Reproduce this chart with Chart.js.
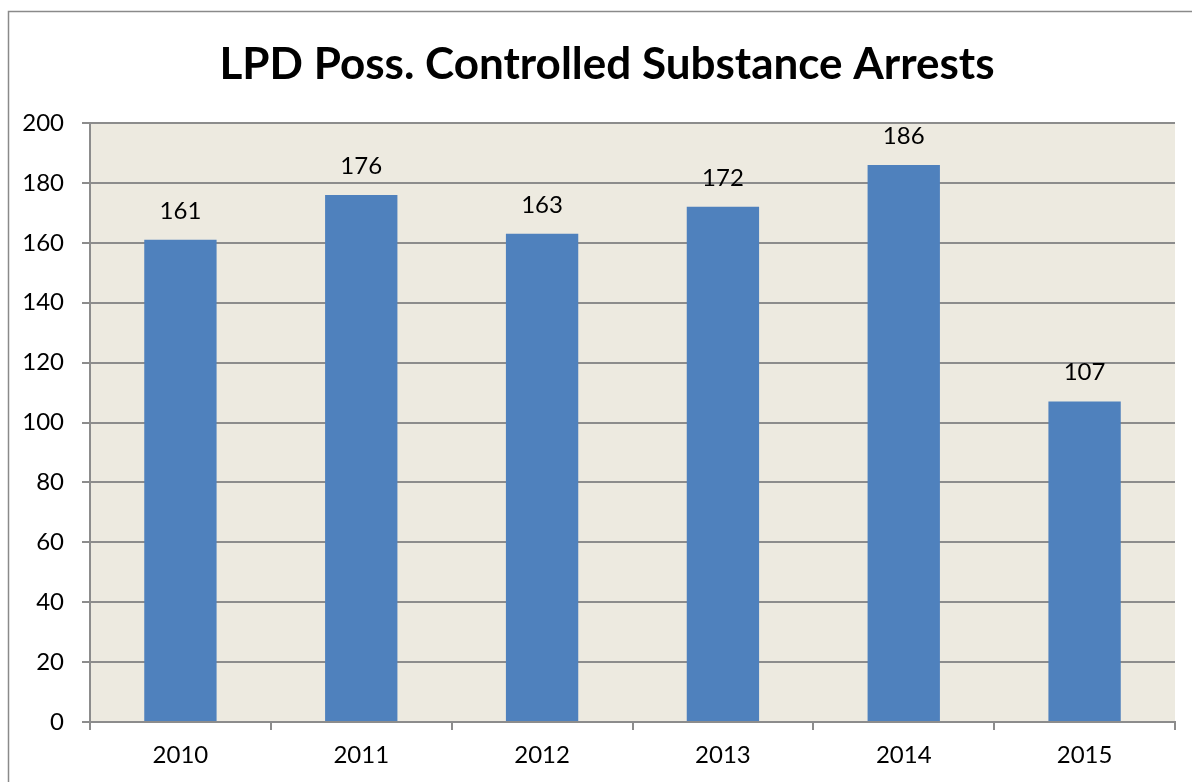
<!DOCTYPE html>
<html>
<head>
<meta charset="utf-8">
<script src="https://cdn.jsdelivr.net/npm/chart.js@4"></script>
<style>
  html, body { margin: 0; padding: 0; background: #fff; }
  #wrap { width: 1192px; height: 782px; }
</style>
</head>
<body>
<div id="wrap"><canvas id="arrestChart" width="1192" height="782"></canvas></div>
<script>
// data
const years = ['2010', '2011', '2012', '2013', '2014', '2015'];
const arrests = [161, 176, 163, 172, 186, 107];
const chartTitle = 'LPD Poss. Controlled Substance Arrests';

const FONT = 'Lato, "Open Sans", sans-serif';

// frame, plot background, title, value labels
const decor = {
  id: 'decor',
  beforeDraw(chart) {
    const { ctx, chartArea: a } = chart;
    ctx.save();
    ctx.fillStyle = '#fff';
    ctx.fillRect(0, 0, chart.width, chart.height);
    ctx.strokeStyle = '#8a8a8a';
    ctx.lineWidth = 1.5;
    ctx.strokeRect(8.5, 11.5, 1400, 1000);
    ctx.fillStyle = '#edeae0';
    ctx.fillRect(a.left, a.top, a.right - a.left, a.bottom - a.top);
    ctx.restore();
  },
  afterDraw(chart) {
    const { ctx } = chart;
    ctx.save();
    ctx.fillStyle = '#000';
    ctx.textAlign = 'center';
    ctx.textBaseline = 'alphabetic';
    ctx.font = 'bold 44px ' + FONT;
    ctx.fillText(chartTitle, 607, 79);

    ctx.font = '24px ' + FONT;
    ctx.textBaseline = 'middle';
    chart.getDatasetMeta(0).data.forEach((bar, i) => {
      ctx.fillText(arrests[i], bar.x, bar.y - 29);
    });
    ctx.restore();
  }
};

const ctx1 = document.getElementById('arrestChart').getContext('2d');
new Chart(ctx1, {
  type: 'bar',
  data: {
    labels: years,
    datasets: [{
      label: 'Arrests',
      data: arrests,
      backgroundColor: '#4f81bd',
      categoryPercentage: 0.4,
      barPercentage: 1.0
    }]
  },
  options: {
    responsive: false,
    animation: false,
    layout: { padding: { top: 123, left: 20, right: 17, bottom: 10 } },
    plugins: {
      legend: { display: false },
      tooltip: { enabled: false }
    },
    scales: {
      x: {
        grid: { drawOnChartArea: false, drawTicks: true, tickLength: 8, color: '#8c8c8c', lineWidth: 2 },
        border: { color: '#8c8c8c', width: 2 },
        ticks: { color: '#000', font: { family: FONT, size: 24 }, padding: 11 },
        afterFit(scale) { scale.height = 50; }
      },
      y: {
        min: 0,
        max: 200,
        grid: { color: '#8c8c8c', lineWidth: 2, tickLength: 8 },
        border: { color: '#8c8c8c', width: 2 },
        ticks: { stepSize: 20, color: '#000', font: { family: FONT, size: 24 }, padding: 18 },
        afterFit(scale) { scale.width = 70; }
      }
    }
  },
  plugins: [decor]
});
</script>
</body>
</html>
